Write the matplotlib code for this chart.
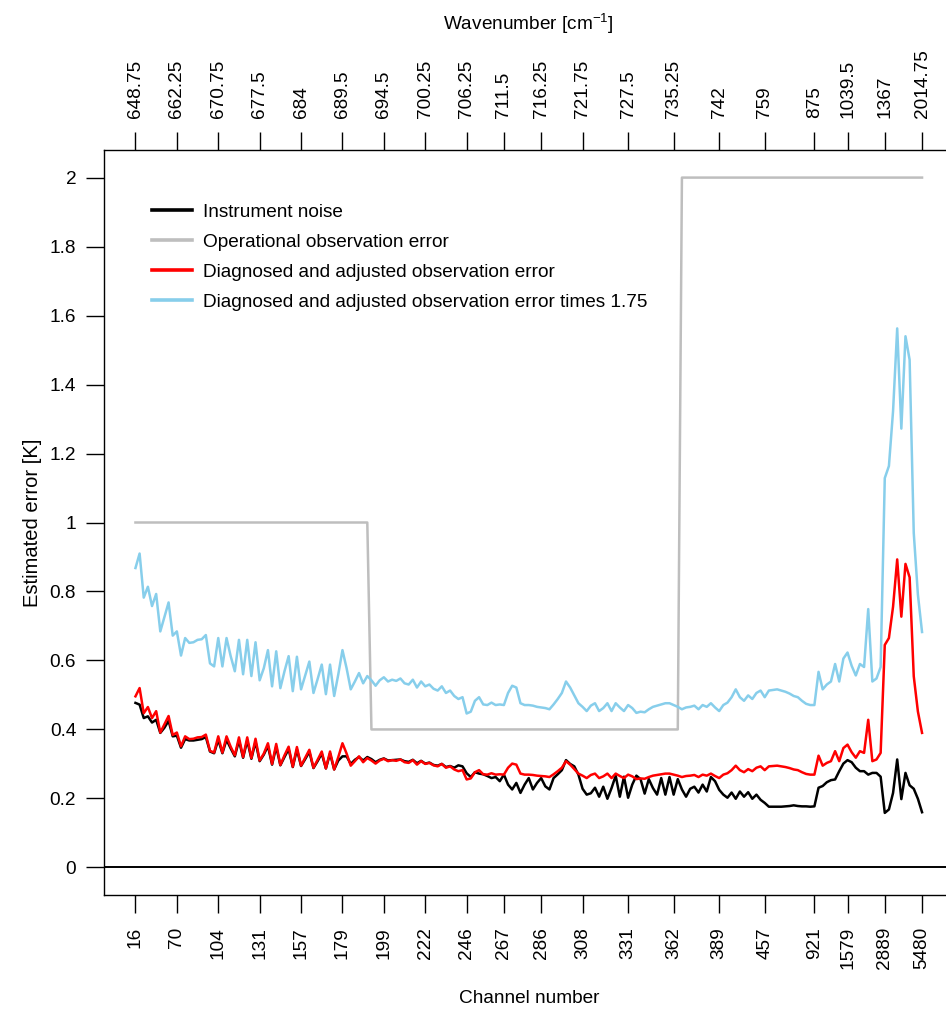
import matplotlib
matplotlib.use("Agg")
import matplotlib.pyplot as plt

# ---- data -------------------------------------------------------------
channel_labels = ["16", "70", "104", "131", "157", "179", "199", "222", "246", "267",
                  "286", "308", "331", "362", "389", "457", "921", "1579", "2889", "5480"]
wavenumber_labels = ["648.75", "662.25", "670.75", "677.5", "684", "689.5", "694.5",
                     "700.25", "706.25", "711.5", "716.25", "721.75", "727.5", "735.25",
                     "742", "759", "875", "1039.5", "1367", "2014.75"]
# position (index in the channel list) of each labelled channel
label_index = [0, 10, 20, 30, 40, 50, 60, 70, 80, 89,
               98, 108, 119, 130, 141, 152, 164, 172, 181, 190]

instrument_noise = [
    0.477, 0.472, 0.433, 0.438, 0.420, 0.428, 0.390, 0.405, 0.425, 0.380,
    0.382, 0.347, 0.372, 0.368, 0.368, 0.370, 0.372, 0.378, 0.336, 0.331,
    0.370, 0.331, 0.370, 0.345, 0.322, 0.368, 0.318, 0.368, 0.315, 0.364,
    0.308, 0.327, 0.352, 0.298, 0.350, 0.296, 0.320, 0.343, 0.291, 0.342,
    0.294, 0.314, 0.335, 0.288, 0.308, 0.330, 0.287, 0.330, 0.284, 0.310,
    0.322, 0.322, 0.300, 0.312, 0.320, 0.310, 0.320, 0.314, 0.305, 0.312,
    0.316, 0.310, 0.311, 0.312, 0.313, 0.308, 0.306, 0.312, 0.302, 0.309,
    0.301, 0.304, 0.297, 0.295, 0.300, 0.291, 0.294, 0.289, 0.296, 0.293,
    0.273, 0.262, 0.276, 0.272, 0.270, 0.265, 0.259, 0.262, 0.250, 0.269,
    0.240, 0.226, 0.245, 0.216, 0.240, 0.259, 0.226, 0.245, 0.259, 0.235,
    0.226, 0.259, 0.270, 0.282, 0.311, 0.300, 0.293, 0.269, 0.228, 0.211,
    0.215, 0.231, 0.205, 0.234, 0.199, 0.230, 0.266, 0.205, 0.263, 0.202,
    0.240, 0.266, 0.256, 0.214, 0.256, 0.230, 0.211, 0.259, 0.211, 0.262,
    0.211, 0.256, 0.226, 0.205, 0.228, 0.234, 0.217, 0.240, 0.220, 0.262,
    0.250, 0.225, 0.211, 0.202, 0.217, 0.199, 0.220, 0.205, 0.218, 0.199,
    0.211, 0.196, 0.187, 0.176, 0.176, 0.176, 0.176, 0.177, 0.178, 0.180,
    0.178, 0.177, 0.177, 0.176, 0.177, 0.231, 0.236, 0.247, 0.253, 0.255,
    0.279, 0.301, 0.311, 0.305, 0.289, 0.279, 0.279, 0.269, 0.274, 0.274,
    0.263, 0.158, 0.168, 0.216, 0.313, 0.198, 0.274, 0.238, 0.228, 0.199,
    0.160,
]

operational_error = [1.0] * 57 + [0.4] * 75 + [2.0] * 59

diagnosed_error = [
    0.496, 0.520, 0.447, 0.465, 0.433, 0.453, 0.391, 0.415, 0.439, 0.384,
    0.391, 0.351, 0.380, 0.372, 0.373, 0.377, 0.378, 0.385, 0.338, 0.333,
    0.380, 0.333, 0.380, 0.350, 0.325, 0.377, 0.320, 0.377, 0.317, 0.373,
    0.310, 0.330, 0.360, 0.300, 0.358, 0.297, 0.325, 0.350, 0.292, 0.349,
    0.295, 0.318, 0.341, 0.289, 0.312, 0.336, 0.287, 0.336, 0.284, 0.320,
    0.360, 0.330, 0.295, 0.308, 0.322, 0.305, 0.317, 0.310, 0.301, 0.310,
    0.315, 0.308, 0.311, 0.309, 0.313, 0.305, 0.303, 0.311, 0.298, 0.308,
    0.300, 0.303, 0.296, 0.293, 0.300, 0.289, 0.293, 0.284, 0.279, 0.282,
    0.255, 0.258, 0.276, 0.282, 0.270, 0.269, 0.273, 0.269, 0.270, 0.269,
    0.289, 0.301, 0.298, 0.272, 0.269, 0.269, 0.268, 0.266, 0.265, 0.264,
    0.262, 0.270, 0.279, 0.289, 0.308, 0.298, 0.285, 0.272, 0.266, 0.259,
    0.268, 0.272, 0.259, 0.264, 0.272, 0.259, 0.272, 0.265, 0.259, 0.269,
    0.264, 0.256, 0.258, 0.257, 0.262, 0.266, 0.268, 0.270, 0.272, 0.272,
    0.269, 0.266, 0.262, 0.265, 0.266, 0.268, 0.262, 0.269, 0.266, 0.272,
    0.265, 0.259, 0.269, 0.273, 0.282, 0.295, 0.282, 0.276, 0.285, 0.279,
    0.289, 0.293, 0.282, 0.293, 0.294, 0.295, 0.293, 0.291, 0.288, 0.284,
    0.282, 0.276, 0.271, 0.269, 0.269, 0.324, 0.295, 0.303, 0.308, 0.337,
    0.308, 0.346, 0.356, 0.334, 0.318, 0.337, 0.332, 0.428, 0.308, 0.313,
    0.332, 0.645, 0.665, 0.756, 0.893, 0.727, 0.880, 0.841, 0.554, 0.452,
    0.390,
]

inflation = 1.75
inflated_error = [v * inflation for v in diagnosed_error]

y_ticks = [0, 0.2, 0.4, 0.6, 0.8, 1.0, 1.2, 1.4, 1.6, 1.8, 2.0]
y_labels = ["0", "0.2", "0.4", "0.6", "0.8", "1", "1.2", "1.4", "1.6", "1.8", "2"]

# ---- style ------------------------------------------------------------
FAMILY, FS = "Liberation Sans", 13.7
plt.rcParams["font.family"] = [FAMILY, "DejaVu Sans"]
plt.rcParams["mathtext.fontset"] = "custom"
plt.rcParams["mathtext.rm"] = FAMILY

W, H = 946, 1013
fig = plt.figure(figsize=(W / 100, H / 100), dpi=100)
# plot region in pixels: x 104..953.5, y 150..895
ax = fig.add_axes([104 / W, 1 - 895 / H, 849.5 / W, 745 / H])

x = list(range(len(diagnosed_error)))
lw = 1.8
ax.axhline(0, color="black", lw=1.4, zorder=1)
ax.plot(x, instrument_noise, color="black", lw=lw, label="Instrument noise", zorder=2)
ax.plot(x, operational_error, color="#BEBEBE", lw=lw, label="Operational observation error", zorder=3)
ax.plot(x, diagnosed_error, color="#FF0000", lw=lw,
        label="Diagnosed and adjusted observation error", zorder=4)
ax.plot(x, inflated_error, color="#87CEEB", lw=lw,
        label="Diagnosed and adjusted observation error times 1.75", zorder=5)

ax.set_xlim(-7.6, 197.6)
ax.set_ylim(-0.08, 2.08)

ax.set_yticks(y_ticks, y_labels)
ax.set_xticks(label_index, channel_labels, rotation=90)
ax.tick_params(axis="both", direction="out", length=13, width=1, labelsize=FS, color="black")
ax.tick_params(axis="x", pad=10)
ax.tick_params(axis="y", pad=7)

for s in ax.spines.values():
    s.set_linewidth(1.0)
    s.set_color("black")

ax.set_xlabel("Channel number", fontsize=FS)
ax.xaxis.set_label_coords(0.5, -0.1275)
ax.set_ylabel("Estimated error [K]", fontsize=14.5)
ax.yaxis.set_label_coords(-0.073, 0.5)

top = ax.twiny()
top.set_xlim(ax.get_xlim())
top.set_xticks(label_index, wavenumber_labels, rotation=90)
top.tick_params(axis="x", direction="out", length=13, width=1, labelsize=FS, pad=10)
top.set_xlabel(r"Wavenumber [cm$^{\mathrm{-1}}$]", fontsize=FS)
top.xaxis.set_label_coords(0.5, 1.161)
for s in top.spines.values():
    s.set_visible(False)

leg = ax.legend(loc="upper left", bbox_to_anchor=(0.0565, 0.928), frameon=False,
                fontsize=FS, handlelength=2.1, handletextpad=0.6,
                labelspacing=0.66, borderpad=0, borderaxespad=0)
for line in leg.get_lines():
    line.set_linewidth(2.6)

fig.savefig("out.png", dpi=100)
